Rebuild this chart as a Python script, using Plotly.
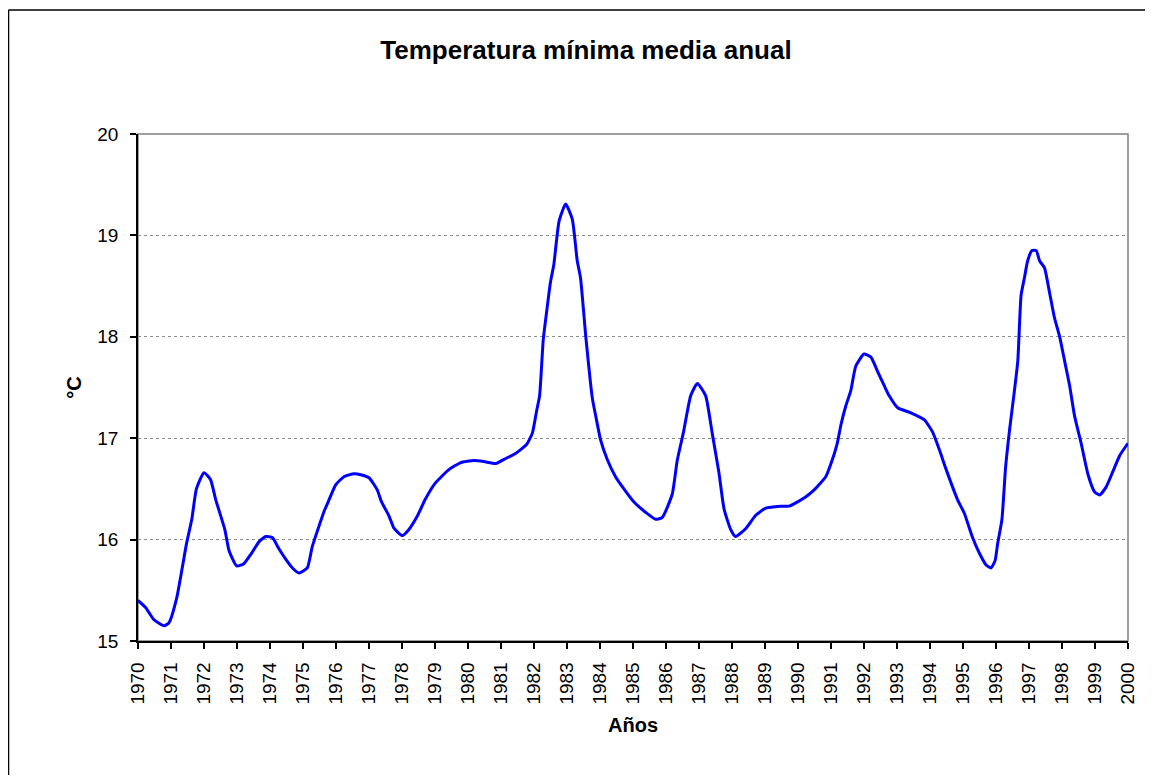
import plotly.graph_objects as go

# fractional year positions
years = [
    1970.00, 1970.23, 1970.48, 1970.79, 1970.94, 1971.17, 1971.34, 1971.47, 1971.63, 1971.77,
    1972.00, 1972.20, 1972.35, 1972.63, 1972.76, 1972.99, 1973.20, 1973.43, 1973.67, 1973.87,
    1974.07, 1974.27, 1974.47, 1974.68, 1974.88, 1975.13, 1975.28, 1975.43, 1975.64, 1975.76,
    1975.99, 1976.24, 1976.55, 1976.75, 1977.00, 1977.25, 1977.37, 1977.61, 1977.76, 1978.01,
    1978.21, 1978.46, 1978.71, 1978.99, 1979.42, 1979.78, 1980.18, 1980.48, 1980.84, 1981.14,
    1981.44, 1981.78, 1981.95, 1982.08, 1982.17, 1982.28, 1982.38, 1982.50, 1982.60, 1982.76,
    1982.96, 1983.16, 1983.31, 1983.41, 1983.57, 1983.77, 1983.87, 1984.02, 1984.22, 1984.47,
    1984.68, 1985.03, 1985.38, 1985.69, 1985.89, 1986.19, 1986.34, 1986.53, 1986.75, 1986.95,
    1987.20, 1987.40, 1987.60, 1987.76, 1987.96, 1988.11, 1988.42, 1988.72, 1989.02, 1989.47,
    1989.73, 1990.03, 1990.23, 1990.49, 1990.84, 1990.99, 1991.19, 1991.30, 1991.45, 1991.60,
    1991.75, 1992.00, 1992.21, 1992.41, 1992.61, 1992.76, 1993.02, 1993.42, 1993.83, 1994.08,
    1994.28, 1994.48, 1994.84, 1995.04, 1995.29, 1995.49, 1995.70, 1995.85, 1995.97, 1996.05,
    1996.18, 1996.29, 1996.41, 1996.54, 1996.66, 1996.76, 1996.86, 1996.96, 1997.09, 1997.22,
    1997.32, 1997.47, 1997.62, 1997.77, 1997.93, 1998.08, 1998.23, 1998.38, 1998.58, 1998.79,
    1998.99, 1999.14, 1999.34, 1999.54, 1999.75, 2000.00,
]

# minimum mean temperature, °C
temp_min = [
    15.40, 15.33, 15.21, 15.15, 15.18, 15.42, 15.72, 15.96, 16.20, 16.50,
    16.66, 16.59, 16.40, 16.10, 15.89, 15.74, 15.76, 15.86, 15.98, 16.03,
    16.02, 15.91, 15.81, 15.72, 15.67, 15.72, 15.93, 16.08, 16.28, 16.37,
    16.54, 16.62, 16.65, 16.64, 16.61, 16.49, 16.38, 16.23, 16.11, 16.04,
    16.10, 16.23, 16.40, 16.55, 16.69, 16.76, 16.78, 16.77, 16.75, 16.80,
    16.85, 16.94, 17.05, 17.27, 17.42, 17.97, 18.24, 18.54, 18.71, 19.14,
    19.31, 19.16, 18.75, 18.58, 18.00, 17.39, 17.22, 16.98, 16.79, 16.62,
    16.52, 16.37, 16.27, 16.20, 16.22, 16.45, 16.78, 17.06, 17.42, 17.54,
    17.42, 17.05, 16.67, 16.30, 16.10, 16.03, 16.11, 16.24, 16.31, 16.33,
    16.33, 16.38, 16.42, 16.49, 16.62, 16.74, 16.95, 17.13, 17.32, 17.47,
    17.71, 17.83, 17.80, 17.66, 17.52, 17.42, 17.30, 17.25, 17.18, 17.06,
    16.89, 16.70, 16.39, 16.26, 16.02, 15.87, 15.75, 15.72, 15.79, 15.96,
    16.20, 16.71, 17.08, 17.42, 17.76, 18.41, 18.58, 18.75, 18.85, 18.85,
    18.75, 18.68, 18.44, 18.19, 18.00, 17.76, 17.52, 17.22, 16.95, 16.64,
    16.47, 16.44, 16.52, 16.67, 16.83, 16.95,
]

year_ticks = list(range(1970, 2001))
y_ticks = [15, 16, 17, 18, 19, 20]

FONT = "Liberation Sans, Arial, sans-serif"

# the page body has an 8px margin all round; shrink the figure so no scrollbars appear
W, H = 1137, 767
L, R, T, B = 130, 17, 126, 134
PW, PH = W - L - R, H - T - B

fig = go.Figure()
fig.add_trace(go.Scatter(
    x=years, y=temp_min,
    mode="lines",
    line=dict(color="#0000FF", width=3, shape="spline", smoothing=0.5),
    showlegend=False,
))

fig.update_layout(
    width=W, height=H,
    margin=dict(l=L, r=R, t=T, b=B, autoexpand=False),
    paper_bgcolor="white", plot_bgcolor="white",
    font=dict(family=FONT, size=19, color="black"),
    title=dict(text="<b>Temperatura mínima media anual</b>",
               x=578 / W, xref="container", xanchor="center",
               y=1 - 42 / H, yref="container", yanchor="middle",
               font=dict(size=26)),
    xaxis=dict(
        range=[1970, 2000], tickvals=year_ticks, ticktext=[str(v) for v in year_ticks],
        tickangle=-90, ticks="outside", ticklen=6, tickcolor="black", tickwidth=1.5,
        showline=True, linecolor="black", linewidth=1.5, showgrid=False, zeroline=False,
        ticklabelstandoff=6, automargin=False,
        title=dict(text="<b>Años</b>", font=dict(size=20), standoff=14),
    ),
    yaxis=dict(
        range=[15, 20], tickvals=y_ticks, ticks="outside", ticklen=6,
        tickcolor="black", tickwidth=1.5,
        showline=True, linecolor="black", linewidth=1.5,
        showgrid=True, gridcolor="#8c8c8c", gridwidth=1, griddash="dot",
        zeroline=False, ticklabelstandoff=8, automargin=False,
        title=dict(text="<b>°C</b>", font=dict(size=20), standoff=10),
    ),
    # second pair of axes only for the inner half of the crossing ticks
    xaxis2=dict(overlaying="x", anchor="y", side="bottom", range=[1970, 2000],
                tickvals=year_ticks, ticks="inside", ticklen=6, tickcolor="black",
                tickwidth=1.5, showticklabels=False, showgrid=False, zeroline=False,
                automargin=False),
    yaxis2=dict(overlaying="y", anchor="x", side="left", range=[15, 20],
                tickvals=y_ticks, ticks="inside", ticklen=6, tickcolor="black",
                tickwidth=1.5, showticklabels=False, showgrid=False, zeroline=False,
                automargin=False),
)

# grey plot-area frame (top and right sides)
fig.add_shape(type="rect", xref="paper", yref="paper", x0=0, x1=1, y0=0, y1=1,
              line=dict(color="#808080", width=1.5), layer="below")
# black outer chart border: only its top and left edges are in view
bx = (0.5 - L) / PW
by = 1 + (T - 2) / PH
fig.add_shape(type="line", xref="paper", yref="paper",
              x0=bx, x1=(W - L) / PW, y0=by, y1=by,
              line=dict(color="black", width=1.5))
fig.add_shape(type="line", xref="paper", yref="paper",
              x0=bx, x1=bx, y0=by, y1=-B / PH,
              line=dict(color="black", width=1.5))

fig.write_html("out.html", config={"displayModeBar": False})
